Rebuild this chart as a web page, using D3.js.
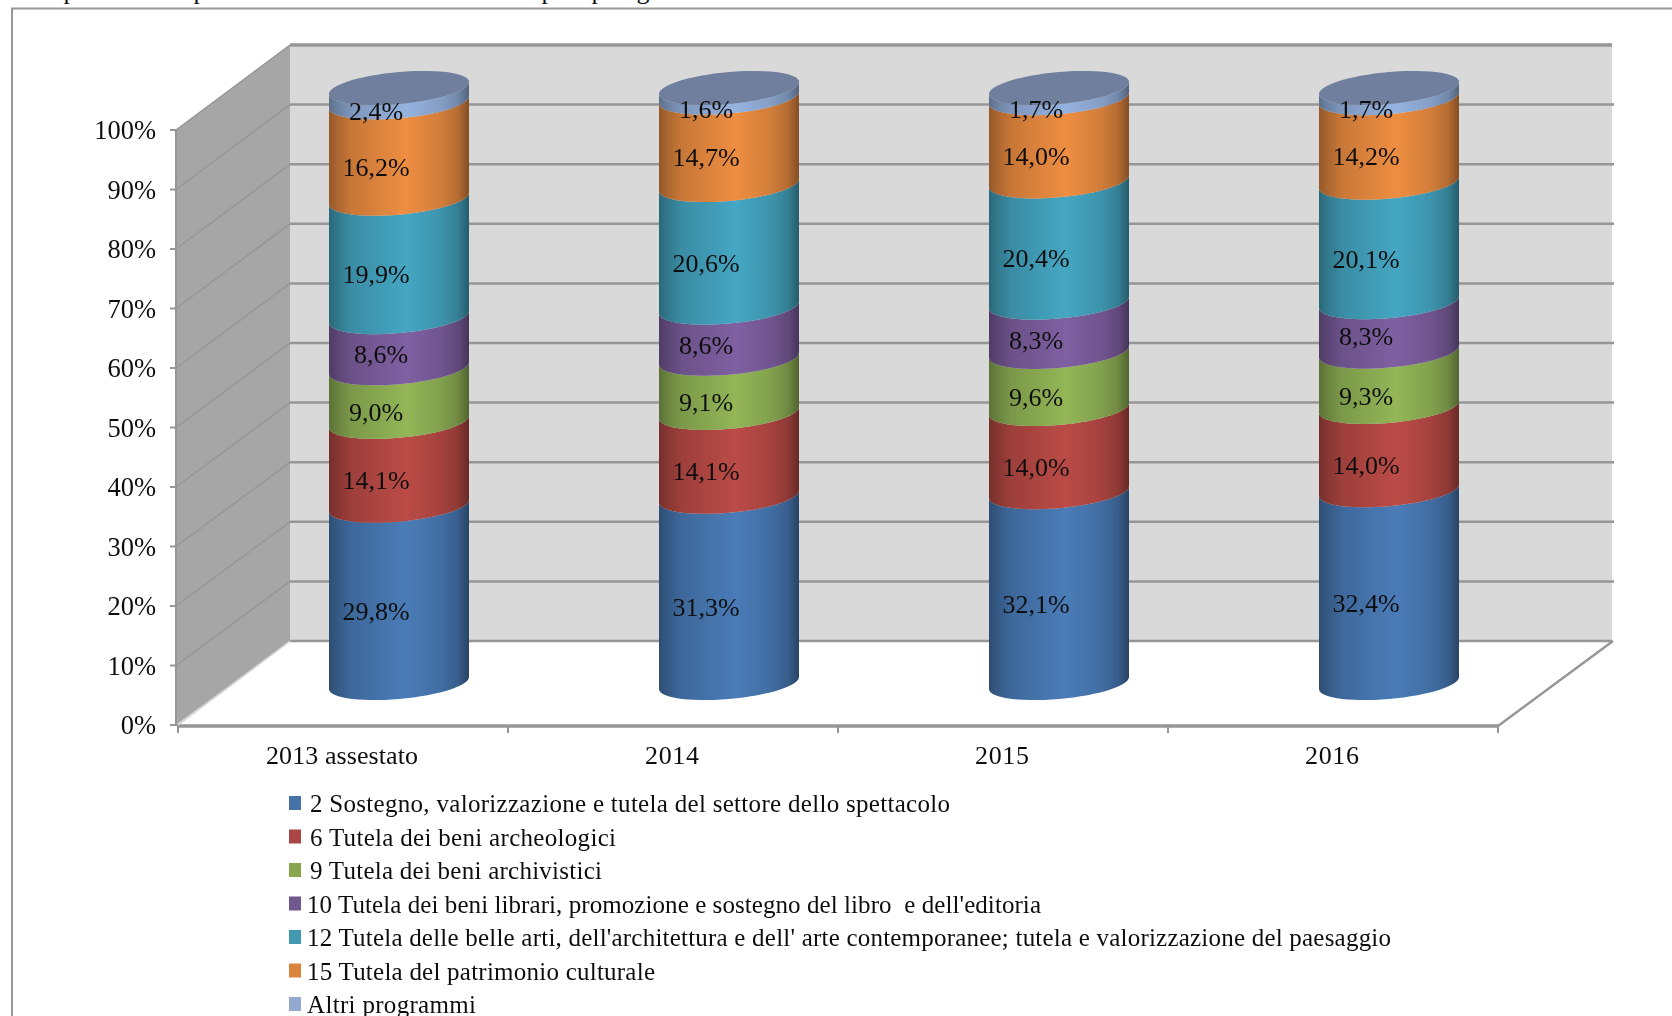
<!DOCTYPE html>
<html><head><meta charset="utf-8">
<script src="https://cdnjs.cloudflare.com/ajax/libs/d3/7.8.5/d3.min.js"></script>
<style>
html,body{margin:0;padding:0;background:#fff;overflow:hidden}
svg{display:block}
text{font-family:"Liberation Serif",serif;fill:#111}
</style></head><body><svg id="c" width="1672" height="1016"></svg>
<script>
const categories=["2013 assestato","2014","2015","2016"];
const seriesNames=["2 Sostegno, valorizzazione e tutela del settore dello spettacolo","6 Tutela dei beni archeologici","9 Tutela dei beni archivistici","10 Tutela dei beni librari, promozione e sostegno del libro  e dell'editoria","12 Tutela delle belle arti, dell'architettura e dell' arte contemporanee; tutela e valorizzazione del paesaggio","15 Tutela del patrimonio culturale","Altri programmi"];
const s2=[29.8,31.3,32.1,32.4];
const s6=[14.1,14.1,14.0,14.0];
const s9=[9.0,9.1,9.6,9.3];
const s10=[8.6,8.6,8.3,8.3];
const s12=[19.9,20.6,20.4,20.1];
const s15=[16.2,14.7,14.0,14.2];
const altri=[2.4,1.6,1.7,1.7];
const yTicks=[0,10,20,30,40,50,60,70,80,90,100];
const clippedGlyphs=["p","p","p","p","g"];

const seriesValues=[s2,s6,s9,s10,s12,s15,altri];
const bodyColors=["#4a7cb8","#bb4b46","#93b657","#7f60a2","#45a7c3","#ee8e42","#96b3e0"];
const swatchColors=["#4572a7","#aa4643","#89a54e","#71588f","#4198af","#db843d","#93a9cf"];
const topColor="#6f7f9d", gridColor="#969696";

const svg=d3.select("#c");
const fs=26;
const fmt=v=>d3.format(".1f")(v).replace(".",",")+"%";

const yFront=d3.scaleLinear().domain([0,100]).range([725,130]);
const yBack=d3.scaleLinear().domain([0,100]).range([641,45]);
const yCyl=d3.scaleLinear().domain([0,100]).range([683,88]);
const yLabel=d3.scaleLinear().domain([0,100]).range([701,105]);
const x=d3.scaleBand().domain(categories).range([178,1498]);
const depthX=112, backLeft=290, backRight=1612;
const rx=70, ry=16, skew=6;

const defs=svg.append("defs");
defs.append("filter").attr("id","soft").append("feGaussianBlur").attr("stdDeviation",.6);
defs.append("filter").attr("id","softText").attr("x","-5%").attr("y","-20%").attr("width","110%").attr("height","140%").append("feGaussianBlur").attr("stdDeviation",.3);

// frame
svg.append("path").attr("d","M12,1016V8.5H1672").attr("fill","none").attr("stroke","#979797").attr("stroke-width",2);

// clipped line of text above the frame
const glyphX=[70,200,548,598,643];
svg.selectAll("text.clip").data(clippedGlyphs).join("text").attr("class","clip")
  .attr("x",(d,i)=>glyphX[i]).attr("y",-1).attr("text-anchor","middle").attr("font-size",26).text(d=>d);

// walls
svg.append("rect").attr("x",backLeft).attr("y",yBack(100)).attr("width",backRight-backLeft).attr("height",yBack(0)-yBack(100)).attr("fill","#d9d9d9");
svg.append("path").attr("d",`M176,${yFront(100)}L${backLeft},${yBack(100)}V${yBack(0)}L176,${yFront(0)}Z`).attr("fill","#a6a6a6");

// gridlines
const labels=svg.append("g").attr("filter","url(#softText)");
yTicks.forEach(t=>{
  svg.append("line").attr("x1",backLeft).attr("x2",backRight+(t===100||t===0?0:2)).attr("y1",yBack(t)).attr("y2",yBack(t)).attr("stroke",gridColor).attr("stroke-width",t===100?3.5:2.5);
  if(t>0) svg.append("line").attr("x1",176).attr("x2",backLeft).attr("y1",yFront(t)).attr("y2",yBack(t)).attr("stroke",gridColor).attr("stroke-width",1.5);
  svg.append("line").attr("x1",170).attr("x2",177).attr("y1",yFront(t)).attr("y2",yFront(t)).attr("stroke",gridColor).attr("stroke-width",2);
  labels.append("text").attr("x",156).attr("y",yFront(t)+9).attr("text-anchor","end").attr("font-size",fs+.5).text(t+"%");
});
// floor edges
svg.append("line").attr("x1",176).attr("x2",176).attr("y1",yFront(100)).attr("y2",yFront(0)).attr("stroke",gridColor).attr("stroke-width",2);
svg.append("line").attr("x1",177).attr("x2",1499).attr("y1",726).attr("y2",726).attr("stroke",gridColor).attr("stroke-width",3.5);
svg.append("line").attr("x1",1498).attr("x2",backRight+1).attr("y1",726).attr("y2",yBack(0)).attr("stroke",gridColor).attr("stroke-width",2.5);
svg.append("line").attr("x1",178).attr("x2",backLeft).attr("y1",725).attr("y2",yBack(0)).attr("stroke","#cfcfcf").attr("stroke-width",1.5);
// category ticks and labels
[...categories.map(c=>x(c)),x.range()[1]].forEach(t=>{
  svg.append("line").attr("x1",t).attr("x2",t).attr("y1",726).attr("y2",733).attr("stroke",gridColor).attr("stroke-width",2);
});
labels.selectAll("text.cat").data(categories).join("text").attr("class","cat")
  .attr("x",d=>x(d)+x.bandwidth()/2-1).attr("y",764).attr("text-anchor","middle").attr("font-size",fs)
  .attr("textLength",d=>d.length>4?152:54).text(d=>d);

// gradients
bodyColors.forEach((c,i)=>{
  const g=defs.append("linearGradient").attr("id","g"+i);
  const stops=[[0,.62],[.06,.72],[.16,.84],[.55,1],[.8,.88],[.92,.76],[1,.55]];
  stops.forEach(([o,k])=>{
    const r=d3.rgb(c);
    g.append("stop").attr("offset",o).attr("stop-color",d3.rgb(r.r*k,r.g*k,r.b*k).formatHex());
  });
});

// stacked cylinders
const rows=categories.map((c,j)=>{
  const o={cat:c}; seriesNames.forEach((n,i)=>o[n]=seriesValues[i][j]); return o;
});
const stacked=d3.stack().keys(seriesNames).offset(d3.stackOffsetExpand)(rows);
const ellipsePoint=(cx,cy,deg)=>{
  const r=deg*Math.PI/180, c=Math.cos(r);
  return [cx-rx*c, cy+skew*c+ry*Math.sin(r)];
};
const frontArc=(cx,cy)=>d3.range(0,181,6).map(a=>ellipsePoint(cx,cy,a));
const line=d3.line();
const chart=svg.append("g").attr("filter","url(#soft)");
stacked.forEach((layer,i)=>{
  layer.forEach((seg,j)=>{
    const cx=x(categories[j])+x.bandwidth()/2+depthX/2;
    const lo=frontArc(cx,yCyl(seg[0]*100));
    const hi=frontArc(cx,yCyl(seg[1]*100));
    chart.append("path").attr("d",line(hi)+"L"+line(lo.slice().reverse()).slice(1)+"Z").attr("fill",`url(#g${i})`);
  });
});
categories.forEach(c=>{
  const cx=x(c)+x.bandwidth()/2+depthX/2;
  chart.append("path").attr("d",line(d3.range(0,360,6).map(a=>ellipsePoint(cx,yCyl(100),a)))+"Z").attr("fill",topColor);
});
// data labels; the purple series' labels sit slightly off the band centre in the reference
const labelNudge={3:[[5,-5],[0,-5],[0,-4],[0,-7]]};
const dataLabels=svg.append("g").attr("filter","url(#softText)");
stacked.forEach((layer,i)=>{
  layer.forEach((seg,j)=>{
    const n=labelNudge[i]?labelNudge[i][j]:[0,0];
    const cx=x(categories[j])+x.bandwidth()/2+depthX/2-23+n[0];
    dataLabels.append("text").attr("x",cx).attr("y",yLabel((seg[0]+seg[1])*50)+8+n[1]).attr("text-anchor","middle").attr("font-size",fs).text(fmt(seriesValues[i][j]));
  });
});

// legend
const legendY=d3.scalePoint().domain(seriesNames).range([803,1004]);
const legendTextX=[310,310,310,307,307,307,307];
const legendWidths=[640,306,292,734,1084,348,169];
const legendG=svg.append("g").attr("filter","url(#softText)");
seriesNames.forEach((n,i)=>{
  svg.append("rect").attr("x",289).attr("y",legendY(n)-7).attr("width",12).attr("height",14).attr("fill",swatchColors[i]);
  legendG.append("text").attr("x",legendTextX[i]).attr("y",legendY(n)+9).attr("font-size",25).attr("xml:space","preserve").attr("textLength",legendWidths[i]).text(n);
});
</script></body></html>
